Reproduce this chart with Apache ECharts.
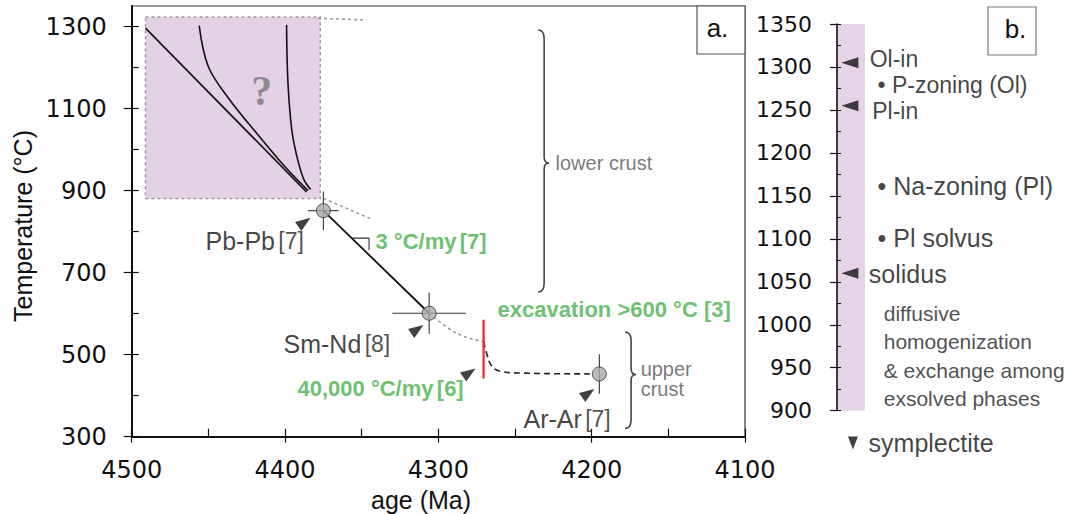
<!DOCTYPE html>
<html><head><meta charset="utf-8">
<script src="https://cdn.jsdelivr.net/npm/echarts@6/dist/echarts.min.js"></script>
<style>html,body{margin:0;padding:0;background:#fff}#c{width:1073px;height:514px}</style>
</head><body><div id="c"></div>
<script>
// ---------- panel a: axis ticks ----------
const ageTicks = [4100, 4200, 4300, 4400, 4500];
const ageMinorTicks = [4100, 4150, 4200, 4250, 4300, 4350, 4400, 4450, 4500];
const tempTicksA = [300, 500, 700, 900, 1100, 1300];
const tempMinorTicksA = [300, 400, 500, 600, 700, 800, 900, 1000, 1100, 1200, 1300];
// ---------- panel b: axis ticks ----------
const tempTicksB = [900, 950, 1000, 1050, 1100, 1150, 1200, 1250, 1300, 1350];

// ---------- dated points (age Ma, temperature C, errors) ----------
const pointNames = ['Pb-Pb', 'Sm-Nd', 'Ar-Ar'];
const pointAge = [4375, 4306, 4195];
const pointTemp = [851, 601, 453];
const ageErr = [10, 24, 0];
const tempErr = [47, 50, 48];

// solid cooling path Pb-Pb -> Sm-Nd
const pathAge = [4375, 4306];
const pathTemp = [851, 601];

// hypothetical early cooling curves ("?")
const curve1Age = [4491, 4386];
const curve1Temp = [1296, 897];
const curve2Age = [4456, 4450, 4436, 4418.5, 4400, 4385];
const curve2Temp = [1302, 1202, 1121, 1040, 958, 900];
const curve3Age = [4399, 4398.5, 4397.4, 4395.3, 4391.7, 4387.6, 4383.3];
const curve3Temp = [1304, 1202, 1121, 1040, 975, 926, 903];
const boxAge = [4491, 4377];
const boxTemp = [1323, 881];

// dotted / dashed connectors
const dotTopAge = [4378.5, 4347];
const dotTopTemp = [1320, 1316];
const dotPbAge = [4375, 4344.6];
const dotPbTemp = [881, 832];
const dotSmAge = [4306, 4288, 4271];
const dotSmTemp = [601, 552, 532];
const dashAge = [4270.5, 4268.5, 4265.5, 4260, 4245, 4199];
const dashTemp = [532, 503, 474, 460, 455, 453];
const excavAge = [4270.5, 4270.5];
const excavTemp = [585, 442];
const slopeAge = [4356.7, 4345.2, 4345.2];
const slopeTemp = [784, 784, 755];

// arrowheads pointing at the data
const arrowAge = [4387.4, 4313.7, 4279.8, 4202.2];
const arrowTemp = [823, 562, 456, 406];

// annotations panel a
const noteText = ['Pb-Pb', 'Sm-Nd', 'Ar-Ar', '3 °C/my', 'excavation >600 °C [3]', '40,000 °C/my', 'upper\ncrust', 'lower crust', '?'];
const noteRef = ['[7]', '[8]', '[7]', '[7]', '', '[6]', '', '', ''];
const noteKind = ['k', 'k', 'k', 'g', 'g', 'g', 'u', 'u', 'q'];
const noteAge = [4452.2, 4401.3, 4244.8, 4341.3, 4261.7, 4392.2, 4168.4, 4223.9, 4415.2];
const noteTemp = [777, 526, 343, 775, 609, 416.5, 440.7, 967.3, 1143];

// crust braces: age, top, middle, bottom temperature
const braceAge = [4231, 4174.3];
const braceTop = [1291.5, 555.3];
const braceMid = [967.3, 451.7];
const braceBottom = [652.8, 320];

// ---------- panel b ----------
const markerTemp = [1305, 1255, 1060];
const phaseText = ['Ol-in', '• P-zoning (Ol)', 'Pl-in', '• Na-zoning (Pl)', '• Pl solvus', 'solidus', 'diffusive', 'homogenization', '& exchange among', 'exsolved phases', 'symplectite'];
const phaseKind = ['m', 'm', 'm', 'm', 'm', 'm', 's', 's', 's', 's', 'm'];
const phasePos = [1.15, 1.43, 1.24, 1.43, 1.43, 1.12, 1.65, 1.65, 1.65, 1.65, 1.11];
const phaseTemp = [1309, 1279, 1249, 1161.5, 1100.6, 1058.7, 1013, 980, 947, 914, 862.4];
const symplectiteTemp = [862.4];

const zip = (a, b) => a.map((v, i) => [v, b[i]]);
const GREEN = '#47b04b';
const plain = v => String(v);

const richA = {
  k: { fontFamily: 'Liberation Sans', fontSize: 25, color: '#111' },
  r: { fontFamily: "'Liberation Sans Narrow','Liberation Sans'", fontSize: 23, color: '#222' },
  g: { fontFamily: 'Liberation Sans', fontWeight: 'bold', fontSize: 22, color: GREEN },
  gr: { fontFamily: "'Liberation Sans Narrow','Liberation Sans'", fontWeight: 'bold', fontSize: 22, color: GREEN },
  u: { fontFamily: 'Liberation Sans', fontSize: 20, color: '#555', lineHeight: 20 },
  q: { fontFamily: 'Liberation Serif', fontWeight: 'bold', fontSize: 42, color: '#777' }
};

function noteLabel(i) {
  const k = noteKind[i];
  if (k === 'k') return '{k|' + noteText[i] + '} {r|' + noteRef[i] + '}';
  if (k === 'g') return '{g|' + noteText[i] + '}' + (noteRef[i] ? ' {gr|' + noteRef[i] + '}' : '');
  if (k === 'u') return noteText[i].split('\n').map(s => '{u|' + s + '}').join('\n');
  return '{q|' + noteText[i] + '}';
}

const lineBase = { type: 'line', xAxisIndex: 0, yAxisIndex: 0, symbol: 'none', silent: true, animation: false };
const dotted = { color: '#9a9a9a', width: 1.6, type: [3, 3] };

const option = {
  animation: false,
  backgroundColor: '#fff',
  grid: [
    { left: 131.7, top: 6, width: 613.3, height: 430.7, show: true, borderColor: '#333', borderWidth: 1.2, backgroundColor: 'transparent' },
    { left: 837, top: 24, width: 28, height: 386.7, show: true, borderWidth: 0, backgroundColor: '#e6d3e6' }
  ],
  xAxis: [
    { gridIndex: 0, type: 'value', inverse: true, min: 4100, max: 4500, interval: 100, position: 'bottom',
      axisLine: { show: true, onZero: false, lineStyle: { color: '#111', width: 2 } },
      axisTick: { show: true, length: 6, inside: false, customValues: ageTicks, lineStyle: { color: '#111', width: 1.2 } },
      axisLabel: { show: true, margin: 21, customValues: ageTicks, fontFamily: 'DejaVu Sans', fontSize: 24, color: '#111', formatter: plain },
      splitLine: { show: false } },
    { gridIndex: 0, type: 'value', inverse: true, min: 4100, max: 4500, interval: 50, position: 'bottom', offset: 0,
      axisLine: { show: false, onZero: false },
      axisTick: { show: true, length: 8, inside: true, customValues: ageMinorTicks, lineStyle: { color: '#111', width: 1.2 } },
      axisLabel: { show: false }, splitLine: { show: false } },
    { gridIndex: 1, type: 'value', min: 0, max: 1, show: false }
  ],
  yAxis: [
    { gridIndex: 0, type: 'value', min: 300, max: 1350, interval: 100, position: 'left',
      axisLine: { show: true, onZero: false, lineStyle: { color: '#111', width: 2 } },
      axisTick: { show: true, length: 8, inside: false, customValues: tempTicksA, lineStyle: { color: '#111', width: 1.2 } },
      axisLabel: { show: true, margin: 25, customValues: tempTicksA, fontFamily: 'DejaVu Sans', fontSize: 24, color: '#111',
        formatter: v => (tempTicksA.indexOf(v) >= 0 ? String(v) : '') },
      splitLine: { show: false } },
    { gridIndex: 0, type: 'value', min: 300, max: 1350, interval: 100, position: 'left', offset: 0,
      axisLine: { show: false, onZero: false },
      axisTick: { show: true, length: 7, inside: true, customValues: tempMinorTicksA, lineStyle: { color: '#111', width: 1.2 } },
      axisLabel: { show: false }, splitLine: { show: false } },
    { gridIndex: 1, type: 'value', min: 900, max: 1350, interval: 50, position: 'left',
      axisLine: { show: true, onZero: false, lineStyle: { color: '#111', width: 1.6 } },
      axisTick: { show: true, length: 7, inside: false, customValues: tempTicksB, lineStyle: { color: '#111', width: 1.2 } },
      axisLabel: { show: true, margin: 25, customValues: tempTicksB, fontFamily: 'DejaVu Sans', fontSize: 22, color: '#111', formatter: plain },
      splitLine: { show: false } },
    { gridIndex: 1, type: 'value', min: 900, max: 1350, interval: 25, position: 'left', offset: 0,
      axisLine: { show: false, onZero: false },
      axisTick: { show: true, length: 4, inside: true, lineStyle: { color: '#111', width: 1 } },
      axisLabel: { show: false }, splitLine: { show: false } }
  ],
  graphic: [
    { type: 'text', x: 22.5, y: 226, rotation: Math.PI / 2,
      style: { text: 'Temperature (°C)', fontFamily: 'Liberation Sans', fontSize: 25, fill: '#111', align: 'center', verticalAlign: 'middle' } },
    { type: 'text', x: 421, y: 500,
      style: { text: 'age (Ma)', fontFamily: 'Liberation Sans', fontSize: 25, fill: '#111', align: 'center', verticalAlign: 'middle' } },
    { type: 'rect', shape: { x: 697, y: 6, width: 48, height: 48 }, style: { fill: '#fff', stroke: '#555', lineWidth: 1.2 }, z: 10 },
    { type: 'text', x: 717.5, y: 28, z: 11,
      style: { text: 'a.', fontFamily: 'Liberation Sans', fontSize: 26, fill: '#111', align: 'center', verticalAlign: 'middle' } },
    { type: 'rect', shape: { x: 988, y: 7, width: 48, height: 48 }, style: { fill: '#fff', stroke: '#777', lineWidth: 1.2 }, z: 10 },
    { type: 'text', x: 1015.5, y: 29, z: 11,
      style: { text: 'b.', fontFamily: 'Liberation Sans', fontSize: 26, fill: '#111', align: 'center', verticalAlign: 'middle' } }
  ],
  series: [
    Object.assign({}, lineBase, {
      data: zip(curve1Age, curve1Temp), lineStyle: { color: '#111', width: 1.6 }, z: 3,
      markArea: { silent: true, itemStyle: { color: '#e4d1e5', borderColor: '#9a9a9a', borderWidth: 1.5, borderType: [3, 3] },
        data: [[{ coord: [boxAge[0], boxTemp[0]] }, { coord: [boxAge[1], boxTemp[1]] }]] }
    }),
    Object.assign({}, lineBase, { data: zip(curve2Age, curve2Temp), smooth: 0.35, lineStyle: { color: '#111', width: 1.6 }, z: 3 }),
    Object.assign({}, lineBase, { data: zip(curve3Age, curve3Temp), smooth: 0.35, lineStyle: { color: '#111', width: 1.6 }, z: 3 }),
    Object.assign({}, lineBase, { data: zip(dotTopAge, dotTopTemp), lineStyle: dotted, z: 2 }),
    Object.assign({}, lineBase, { data: zip(dotPbAge, dotPbTemp), lineStyle: dotted, z: 2 }),
    Object.assign({}, lineBase, { data: zip(dotSmAge, dotSmTemp), smooth: 0.4, lineStyle: dotted, z: 2 }),
    Object.assign({}, lineBase, { data: zip(pathAge, pathTemp), lineStyle: { color: '#111', width: 1.8 }, z: 3 }),
    Object.assign({}, lineBase, { data: zip(dashAge, dashTemp), smooth: 0.4, lineStyle: { color: '#222', width: 1.6, type: [6, 4] }, z: 3 }),
    Object.assign({}, lineBase, { data: zip(excavAge, excavTemp), lineStyle: { color: '#e8282a', width: 2.2 }, z: 4 }),
    Object.assign({}, lineBase, { data: zip(slopeAge, slopeTemp), lineStyle: { color: '#333', width: 1.1 }, z: 3 }),
    { type: 'custom', xAxisIndex: 0, yAxisIndex: 0, silent: true, z: 4,
      data: pointAge.map((a, i) => [a, pointTemp[i], ageErr[i], tempErr[i]]),
      renderItem: function (params, api) {
        const x = api.value(0), y = api.value(1), ex = api.value(2), ey = api.value(3);
        const t = api.coord([x, y + ey]), b = api.coord([x, y - ey]);
        const st = { stroke: '#333', lineWidth: 1.1 };
        const ch = [{ type: 'line', shape: { x1: t[0], y1: t[1], x2: b[0], y2: b[1] }, style: st }];
        if (ex > 0) {
          const l = api.coord([x + ex, y]), r = api.coord([x - ex, y]);
          ch.push({ type: 'line', shape: { x1: l[0], y1: l[1], x2: r[0], y2: r[1] }, style: st });
        }
        return { type: 'group', children: ch };
      } },
    { type: 'scatter', xAxisIndex: 0, yAxisIndex: 0, silent: true, z: 5,
      data: zip(pointAge, pointTemp), symbol: 'circle', symbolSize: 14,
      itemStyle: { color: '#a9a9a9', borderColor: '#333', borderWidth: 1 } },
    { type: 'scatter', xAxisIndex: 0, yAxisIndex: 0, silent: true, z: 5,
      data: zip(arrowAge, arrowTemp), symbol: 'triangle', symbolSize: [11, 15], symbolRotate: -55,
      itemStyle: { color: '#111' } },
    { type: 'scatter', xAxisIndex: 0, yAxisIndex: 0, silent: true, z: 6, clip: false,
      symbol: 'rect', symbolSize: 1, itemStyle: { color: 'rgba(0,0,0,0)' },
      data: noteAge.map((a, i) => ({
        value: [a, noteTemp[i]],
        label: { show: true, position: noteKind[i] === 'q' ? 'inside' : 'right', distance: 0,
          align: noteKind[i] === 'q' ? 'center' : 'left', verticalAlign: 'middle',
          formatter: noteLabel(i), rich: richA }
      })) },
    { type: 'custom', xAxisIndex: 0, yAxisIndex: 0, silent: true, z: 4,
      data: braceAge.map((a, i) => [a, braceTop[i], braceMid[i], braceBottom[i]]),
      renderItem: function (params, api) {
        const x = api.value(0);
        const T = api.coord([x, api.value(1)]), M = api.coord([x, api.value(2)]), B = api.coord([x, api.value(3)]);
        const X = T[0], w = 6, tp = 5;
        const d = 'M' + (X - w) + ',' + T[1] + ' Q' + X + ',' + T[1] + ' ' + X + ',' + (T[1] + 9) +
          ' L' + X + ',' + (M[1] - 6) + ' Q' + X + ',' + M[1] + ' ' + (X + tp) + ',' + M[1] +
          ' Q' + X + ',' + M[1] + ' ' + X + ',' + (M[1] + 6) +
          ' L' + X + ',' + (B[1] - 9) + ' Q' + X + ',' + B[1] + ' ' + (X - w) + ',' + B[1];
        return { type: 'path', shape: { pathData: d }, style: { stroke: '#444', lineWidth: 1.6, fill: null } };
      } },
    // panel b
    { type: 'scatter', xAxisIndex: 2, yAxisIndex: 2, silent: true, z: 5, clip: false,
      data: markerTemp.map(t => [0.46, t]), symbol: 'triangle', symbolSize: [11, 17], symbolRotate: 90,
      itemStyle: { color: '#111' } },
    { type: 'scatter', xAxisIndex: 2, yAxisIndex: 2, silent: true, z: 5, clip: false,
      data: symplectiteTemp.map(t => [0.57, t]), symbol: 'triangle', symbolSize: [10, 13], symbolRotate: 180,
      itemStyle: { color: '#111' } },
    { type: 'scatter', xAxisIndex: 2, yAxisIndex: 2, silent: true, z: 6, clip: false,
      symbol: 'rect', symbolSize: 1, itemStyle: { color: 'rgba(0,0,0,0)' },
      data: phaseText.map((s, i) => ({
        value: [phasePos[i], phaseTemp[i]],
        label: { show: true, position: 'right', distance: 0, align: 'left', verticalAlign: 'middle',
          formatter: s, fontFamily: 'Liberation Sans',
          fontSize: phaseKind[i] === 'm' ? (i < 3 ? 23 : 25) : 21, lineHeight: phaseKind[i] === 'm' ? 20 : 22,
          color: phaseKind[i] === 'm' ? '#111' : '#222' }
      })) }
  ]
};

const chart = echarts.init(document.getElementById('c'), null, { renderer: 'svg', width: 1073, height: 514 });
chart.setOption(option);
</script>
</body></html>
